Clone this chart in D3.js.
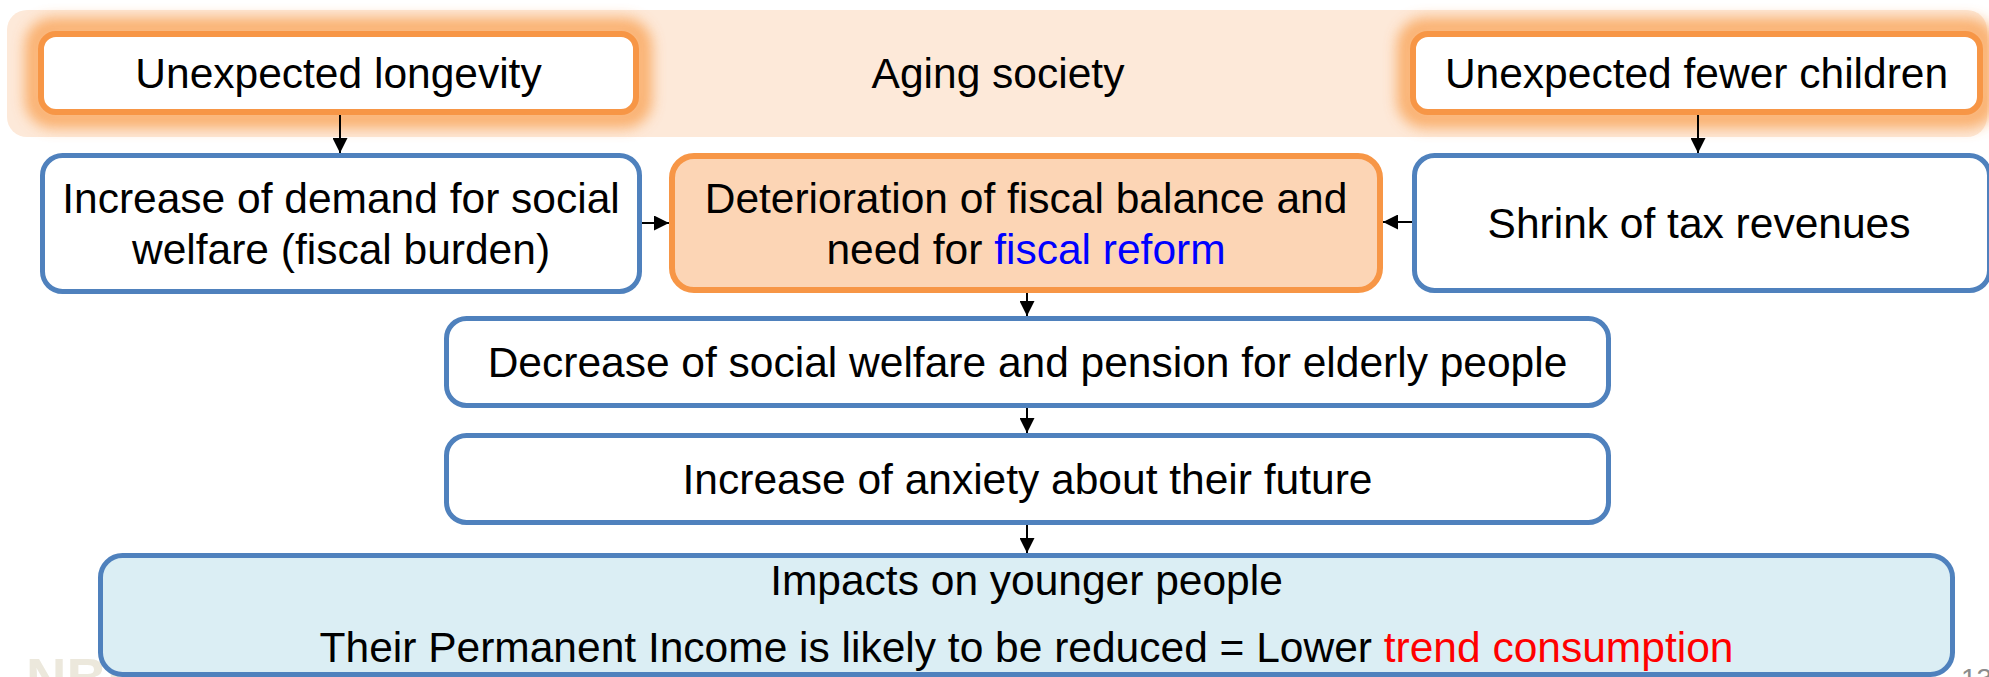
<!DOCTYPE html>
<html>
<head>
<meta charset="utf-8">
<script src="https://cdn.jsdelivr.net/npm/d3@7"></script>
<style>
  html, body { margin: 0; padding: 0; background: #fff; overflow: hidden; }
  svg { display: block; font-family: "Liberation Sans", Arial, sans-serif; }
</style>
</head>
<body>
<svg id="chart" width="1989" height="677"></svg>
<script>
// --- diagram content ---
const bandLabel = "Aging society";

// each node: id, lines of text; a line is a list of [text, colour] runs
const causeNodes = [
  { id: "longevity", lines: [[["Unexpected longevity"]]] },
  { id: "children", lines: [[["Unexpected fewer children"]]] }
];

const effectNodes = [
  { id: "demand", lines: [[["Increase of demand for social"]], [["welfare (fiscal burden)"]]] },
  { id: "fiscal", lines: [[["Deterioration of fiscal balance and"]], [["need for "], ["fiscal reform", "blue"]]] },
  { id: "tax", lines: [[["Shrink of tax revenues"]]] }
];

const chainNodes = [
  { id: "pension", lines: [[["Decrease of social welfare and pension for elderly people"]]] },
  { id: "anxiety", lines: [[["Increase of anxiety about their future"]]] }
];

const impactNode = {
  id: "impact",
  lines: [[["Impacts on younger people"]],
          [["Their Permanent Income is likely to be reduced = Lower "], ["trend consumption", "red"]]]
};

const links = [
  ["longevity", "demand", "down"],
  ["children", "tax", "down"],
  ["demand", "fiscal", "right"],
  ["tax", "fiscal", "left"],
  ["fiscal", "pension", "down"],
  ["pension", "anxiety", "down"],
  ["anxiety", "impact", "down"]
];

// --- layout (outer edges of each box) ---
const layout = {
  band:      { x0: 7,   x1: 1987, y0: 10,  y1: 137 },
  longevity: { x0: 38,  x1: 639,  y0: 31,  y1: 115 },
  children:  { x0: 1410, x1: 1983, y0: 31, y1: 115 },
  demand:    { x0: 40,  x1: 642,  y0: 153, y1: 294 },
  fiscal:    { x0: 669, x1: 1383, y0: 153, y1: 293 },
  tax:       { x0: 1412, x1: 1992, y0: 153, y1: 293 },
  pension:   { x0: 444, x1: 1611, y0: 316, y1: 408 },
  anxiety:   { x0: 444, x1: 1611, y0: 433, y1: 525 },
  impact:    { x0: 98,  x1: 1955, y0: 553, y1: 677 }
};

const styles = {
  cause:  { fill: "#ffffff", stroke: "#f79646", sw: 6, rx: 15 },
  effect: { fill: "#ffffff", stroke: "#4f81bd", sw: 5, rx: 20 },
  fiscal: { fill: "#fcd5b5", stroke: "#f79646", sw: 6, rx: 22 },
  impact: { fill: "#dbeef4", stroke: "#4f81bd", sw: 5, rx: 22 }
};

const colours = { blue: "#0000ff", red: "#ff0000" };
const fontSize = 42.5;
const capHalf = fontSize * 0.716 / 2;

const svg = d3.select("#chart");
const defs = svg.append("defs");

defs.append("filter").attr("id", "glow")
  .attr("x", "-10%").attr("y", "-50%").attr("width", "120%").attr("height", "200%")
  .append("feGaussianBlur").attr("stdDeviation", 7);

defs.append("marker").attr("id", "head")
  .attr("viewBox", "0 0 10 10").attr("refX", 10).attr("refY", 5)
  .attr("markerUnits", "userSpaceOnUse")
  .attr("markerWidth", 15).attr("markerHeight", 15)
  .attr("orient", "auto")
  .append("path").attr("d", "M0,0L10,5L0,10Z").attr("fill", "#000");

// watermark sits behind everything
svg.append("text")
  .attr("x", 26).attr("y", 697)
  .attr("font-size", 56).attr("font-weight", "bold")
  .attr("fill", "#ece8dc")
  .text("NBER");

// page number
svg.append("text")
  .attr("x", 1961).attr("y", 688)
  .attr("font-size", 28).attr("fill", "#8c8c8c")
  .text("13");

// background band
const band = layout.band;
svg.append("rect")
  .attr("x", band.x0).attr("y", band.y0)
  .attr("width", band.x1 - band.x0).attr("height", band.y1 - band.y0)
  .attr("rx", 20).attr("fill", "#fde9d9");

svg.append("text")
  .attr("x", 998).attr("y", (band.y0 + band.y1) / 2 + capHalf - 1)
  .attr("text-anchor", "middle").attr("font-size", fontSize).attr("fill", "#000")
  .text(bandLabel);

// glow behind the cause boxes
svg.selectAll("rect.glow")
  .data(causeNodes)
  .join("rect")
  .attr("class", "glow")
  .attr("x", d => layout[d.id].x0 - 3)
  .attr("y", d => layout[d.id].y0 - 3)
  .attr("width", d => layout[d.id].x1 - layout[d.id].x0 + 6)
  .attr("height", d => layout[d.id].y1 - layout[d.id].y0 + 6)
  .attr("rx", 18)
  .attr("fill", "none")
  .attr("stroke", "#f9a55a")
  .attr("stroke-width", 20)
  .attr("opacity", 0.85)
  .attr("filter", "url(#glow)");

const allNodes = [
  ...causeNodes.map(d => ({ ...d, style: styles.cause })),
  ...effectNodes.map(d => ({ ...d, style: d.id === "fiscal" ? styles.fiscal : styles.effect })),
  ...chainNodes.map(d => ({ ...d, style: styles.effect })),
  { ...impactNode, style: styles.impact }
];

const lineGap = { impact: 67 };

const node = svg.selectAll("g.node")
  .data(allNodes)
  .join("g")
  .attr("class", "node");

node.append("rect")
  .attr("x", d => layout[d.id].x0 + d.style.sw / 2)
  .attr("y", d => layout[d.id].y0 + d.style.sw / 2)
  .attr("width", d => layout[d.id].x1 - layout[d.id].x0 - d.style.sw)
  .attr("height", d => layout[d.id].y1 - layout[d.id].y0 - d.style.sw)
  .attr("rx", d => d.style.rx)
  .attr("fill", d => d.style.fill)
  .attr("stroke", d => d.style.stroke)
  .attr("stroke-width", d => d.style.sw);

node.each(function (d) {
  const box = layout[d.id];
  const cx = d.id === "tax" ? 1699 : (box.x0 + box.x1) / 2;
  const gap = lineGap[d.id] || 51;
  let cy = (box.y0 + box.y1) / 2;
  if (d.id === "impact") cy = 595 + gap / 2 - capHalf;
  const n = d.lines.length;
  const text = d3.select(this).append("text")
    .attr("text-anchor", "middle")
    .attr("font-size", fontSize);
  d.lines.forEach((runs, i) => {
    const y = cy + (i - (n - 1) / 2) * gap + capHalf;
    runs.forEach((run, j) => {
      const ts = text.append("tspan")
        .attr("fill", run[1] ? colours[run[1]] : "#000")
        .text(run[0]);
      if (j === 0) ts.attr("x", cx).attr("y", y);
    });
  });
});

// arrows
const spineX = 1027;
const anchor = (id, side) => {
  const b = layout[id];
  const my = (b.y0 + b.y1) / 2;
  if (side === "top") return [spineX, b.y0];
  if (side === "bottom") return [spineX, b.y1];
  if (side === "left") return [b.x0, my];
  return [b.x1, my];
};

svg.selectAll("line.link")
  .data(links)
  .join("line")
  .attr("class", "link")
  .each(function ([from, to, dir]) {
    let a, b;
    if (dir === "down") {
      a = anchor(from, "bottom");
      b = anchor(to, "top");
      if (from === "longevity") { a[0] = 340; b[0] = 340; }
      if (from === "children") { a[0] = 1698; b[0] = 1698; }
    } else if (dir === "right") {
      a = anchor(from, "right");
      b = anchor(to, "left");
      a[1] = b[1] = 223;
    } else {
      a = anchor(from, "left");
      b = anchor(to, "right");
      a[1] = b[1] = 222;
    }
    d3.select(this)
      .attr("x1", a[0]).attr("y1", a[1])
      .attr("x2", b[0]).attr("y2", b[1]);
  })
  .attr("stroke", "#000")
  .attr("stroke-width", 2)
  .attr("marker-end", "url(#head)");
</script>
</body>
</html>
